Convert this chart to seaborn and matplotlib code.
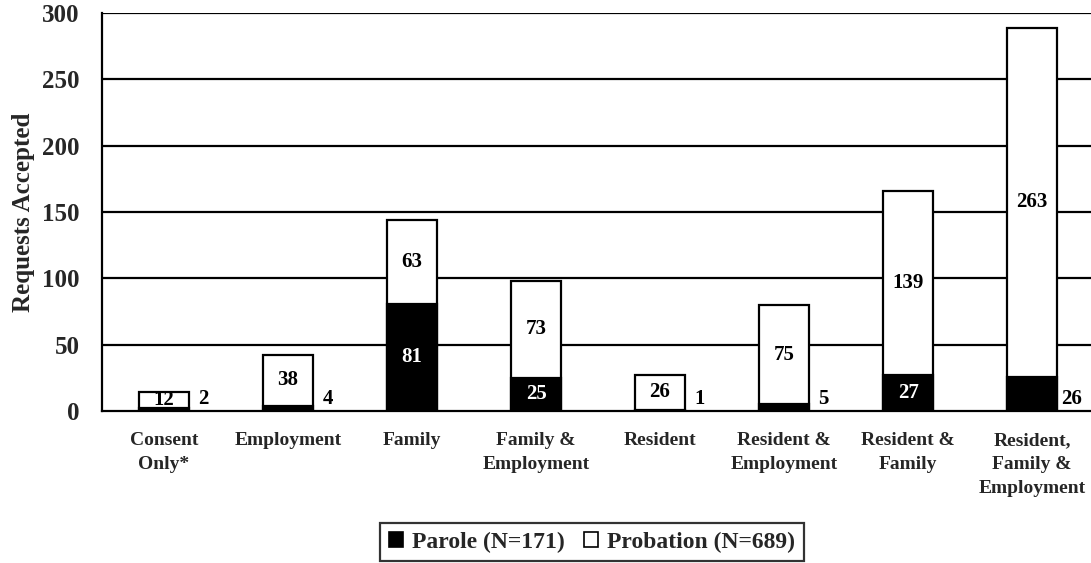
import matplotlib
matplotlib.use("Agg")
import matplotlib.pyplot as plt
import seaborn as sns
import pandas as pd
from matplotlib.patches import Patch

categories = ["Consent\nOnly*", "Employment", "Family", "Family &\nEmployment",
              "Resident", "Resident &\nEmployment", "Resident &\nFamily",
              "Resident,\nFamily &\nEmployment"]
parole = [2, 4, 81, 25, 1, 5, 27, 26]
probation = [12, 38, 63, 73, 26, 75, 139, 263]
parole_label_inside = [False, False, True, True, False, False, True, False]
legend_labels = ["Parole (N=171)", "Probation (N=689)"]
yticks = [0, 50, 100, 150, 200, 250, 300]

sns.set_theme(style="white")
plt.rcParams['font.family'] = ['Liberation Serif', 'DejaVu Serif']
plt.rcParams['font.weight'] = 'bold'

df = pd.DataFrame({"cat": categories, "parole": parole, "probation": probation})
df["total"] = df["parole"] + df["probation"]

fig = plt.figure(figsize=(10.91, 5.63), dpi=100)
ax = fig.add_axes([102/1091, 1 - 411/563, (1091 - 102)/1091, (411 - 13)/563])

for y in yticks[1:]:
    ax.axhline(y, color="black", lw=1.6, zorder=0)

sns.barplot(data=df, x="cat", y="total", color="white", edgecolor="black",
            linewidth=1.6, width=0.4, saturation=1, ax=ax, zorder=2)
sns.barplot(data=df, x="cat", y="parole", color="black", edgecolor="black",
            linewidth=1.6, width=0.4, saturation=1, ax=ax, zorder=3)

for i in range(len(categories)):
    pv, qv = parole[i], probation[i]
    ax.text(i, pv + qv / 2, str(qv), ha="center", va="center",
            fontsize=15, fontweight="bold", color="black", zorder=5)
    if parole_label_inside[i]:
        ax.text(i, pv / 2, str(pv), ha="center", va="center",
                fontsize=15, fontweight="bold", color="white", zorder=5)
    else:
        ax.text(i + 0.32, 9, str(pv), ha="center", va="center",
                fontsize=15, fontweight="bold", color="black", zorder=5)

ax.set_xlim(-0.5, 7.475)
ax.set_ylim(0, 300)
ax.set_yticks(yticks)
ax.set_yticklabels([str(v) for v in yticks], fontsize=18, fontweight="bold")
ax.set_xticks([i + 0.5 for i in range(-1, 7)])
ax.set_xticklabels([""] * 8)
ax.set_xticks(range(len(categories)), minor=True)
ax.set_xticklabels(categories, minor=True, fontsize=14, fontweight="bold",
                   linespacing=1.55, va="top")
ax.tick_params(axis="x", which="minor", length=0, pad=15)
ax.tick_params(axis="x", which="major", length=6, width=1.6, color="black",
               direction="out")
ax.tick_params(axis="y", length=6, width=1.6, color="black", direction="out", pad=10)
ax.set_xlabel("")
ax.set_ylabel("Requests Accepted", fontsize=18, fontweight="bold", labelpad=5)

for side in ["top", "right"]:
    ax.spines[side].set_visible(False)
for side in ["left", "bottom"]:
    ax.spines[side].set_color("black")
    ax.spines[side].set_linewidth(1.6)

handles = [Patch(facecolor="black", edgecolor="black", lw=1.2),
           Patch(facecolor="white", edgecolor="black", lw=1.2)]
leg = fig.legend(handles, legend_labels, loc="center", bbox_to_anchor=(592/1091, 1 - 542/563),
                 ncol=2, frameon=True, fancybox=False, edgecolor="black",
                 prop={"size": 17, "weight": "bold"}, handlelength=0.6, handleheight=0.6,
                 handletextpad=0.4, columnspacing=0.8, borderpad=0.35)
leg.get_frame().set_linewidth(1.6)

fig.savefig("out.png", dpi=100)
